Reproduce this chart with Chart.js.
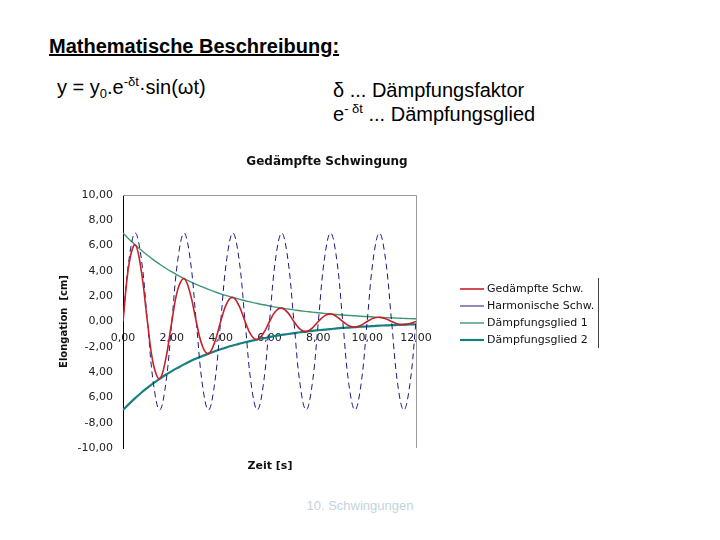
<!DOCTYPE html>
<html>
<head>
<meta charset="utf-8">
<script src="https://cdn.jsdelivr.net/npm/chart.js@4.4.1/dist/chart.umd.min.js"></script>
<style>
  body { margin: 0; width: 720px; height: 540px; background: #fff; position: relative; overflow: hidden; font-family: "Liberation Sans", Arial, sans-serif; }
  .txt { position: absolute; color: #000; white-space: nowrap; line-height: 23px; }
  #ueberschrift { left: 49px; top: 35px; font-size: 20px; font-weight: bold; text-decoration: underline; }
  #formel { left: 57px; top: 76px; font-size: 20px; }
  #delta { left: 333px; top: 79px; font-size: 20px; }
  #glied { left: 333px; top: 103px; font-size: 20px; }
  sub { font-size: 13px; vertical-align: -4px; line-height: 0; }
  sup { font-size: 13px; vertical-align: 8px; line-height: 0; }
  #fuss { left: 0; width: 720px; top: 494px; text-align: center; font-size: 13px; color: #c5d3dc; }
  #wrap { position: absolute; left: 50px; top: 140px; width: 560px; height: 330px; }
</style>
</head>
<body>
<div class="txt" id="ueberschrift">Mathematische Beschreibung:</div>
<div class="txt" id="formel">y = y<sub>0</sub>.e<sup>-δt</sup>·sin(ωt)</div>
<div class="txt" id="delta">δ ... Dämpfungsfaktor</div>
<div class="txt" id="glied">e<sup>- δt</sup> ... Dämpfungsglied</div>
<div class="txt" id="fuss">10. Schwingungen</div>
<div id="wrap"><canvas id="myChart"></canvas></div>
<script>
const grafico = document.getElementById('myChart')

const zeit = [0, 0.25, 0.5, 0.75, 1, 1.25, 1.5, 1.75, 2, 2.25, 2.5, 2.75, 3, 3.25, 3.5, 3.75,
  4, 4.25, 4.5, 4.75, 5, 5.25, 5.5, 5.75, 6, 6.25, 6.5, 6.75, 7, 7.25, 7.5, 7.75,
  8, 8.25, 8.5, 8.75, 9, 9.25, 9.5, 9.75, 10, 10.25, 10.5, 10.75, 11, 11.25, 11.5, 11.75, 12];

const gedaempft = [0, 4.60, 6.06, 3.98, 0, -3.44, -4.53, -2.98, 0, 2.58, 3.39, 2.23, 0, -1.93, -2.54, -1.67,
  0, 1.44, 1.90, 1.25, 0, -1.08, -1.42, -0.93, 0, 0.81, 1.06, 0.70, 0, -0.60, -0.80, -0.52,
  0, 0.45, 0.60, 0.39, 0, -0.34, -0.45, -0.29, 0, 0.25, 0.33, 0.22, 0, -0.19, -0.25, -0.16, 0];

const harmonisch = [0, 4.95, 7, 4.95, 0, -4.95, -7, -4.95, 0, 4.95, 7, 4.95, 0, -4.95, -7, -4.95,
  0, 4.95, 7, 4.95, 0, -4.95, -7, -4.95, 0, 4.95, 7, 4.95, 0, -4.95, -7, -4.95,
  0, 4.95, 7, 4.95, 0, -4.95, -7, -4.95, 0, 4.95, 7, 4.95, 0, -4.95, -7, -4.95, 0];

const glied1 = [7.00, 6.51, 6.06, 5.63, 5.24, 4.87, 4.53, 4.21, 3.92, 3.65, 3.39, 3.15, 2.93, 2.73, 2.54, 2.36,
  2.19, 2.04, 1.90, 1.77, 1.64, 1.53, 1.42, 1.32, 1.23, 1.14, 1.06, 0.99, 0.92, 0.85, 0.80, 0.74,
  0.69, 0.64, 0.60, 0.55, 0.51, 0.48, 0.45, 0.41, 0.39, 0.36, 0.33, 0.31, 0.29, 0.27, 0.25, 0.23, 0.22];

const glied2 = [-7.00, -6.51, -6.06, -5.63, -5.24, -4.87, -4.53, -4.21, -3.92, -3.65, -3.39, -3.15, -2.93, -2.73, -2.54, -2.36,
  -2.19, -2.04, -1.90, -1.77, -1.64, -1.53, -1.42, -1.32, -1.23, -1.14, -1.06, -0.99, -0.92, -0.85, -0.80, -0.74,
  -0.69, -0.64, -0.60, -0.55, -0.51, -0.48, -0.45, -0.41, -0.39, -0.36, -0.33, -0.31, -0.29, -0.27, -0.25, -0.23, -0.22];

const serienNamen = ['Gedämpfte Schw.', 'Harmonische Schw.', 'Dämpfungsglied 1', 'Dämpfungsglied 2'];

// y tick labels as printed in the picture (minus signs missing at -4 and -6)
const yWerte = [10, 8, 6, 4, 2, 0, -2, -4, -6, -8, -10];
const yBeschriftung = ['10,00', '8,00', '6,00', '4,00', '2,00', '0,00', '-2,00', '4,00', '6,00', '-8,00', '-10,00'];
const xBeschriftung = ['0,00', '2,00', '4,00', '6,00', '8,00', '10,00', '12,00'];

const punkte = werte => zeit.map((t, i) => ({ x: t, y: werte[i] }));

const serien = [
  { werte: gedaempft, color: '#c8202a', width: 1.6, dash: [] },
  { werte: harmonisch, color: '#1a1a80', width: 1, dash: [6, 4] },
  { werte: glied1, color: '#3f9677', width: 1.4, dash: [] },
  { werte: glied2, color: '#16807f', width: 2.2, dash: [] }
];

const schrift = '"DejaVu Sans", Verdana, sans-serif';

const extras = {
  id: 'extras',
  afterDraw(chart) {
    const ctx = chart.ctx;
    const a = chart.chartArea;
    ctx.save();
    // frame top and right
    ctx.strokeStyle = '#9a9a9a';
    ctx.lineWidth = 1;
    ctx.beginPath();
    ctx.moveTo(a.left, a.top + 0.5);
    ctx.lineTo(a.right + 0.5, a.top + 0.5);
    ctx.lineTo(a.right + 0.5, a.bottom);
    ctx.stroke();
    // title
    ctx.fillStyle = '#111';
    ctx.textAlign = 'center';
    ctx.textBaseline = 'middle';
    ctx.font = 'bold 12px ' + schrift;
    ctx.fillText('Gedämpfte Schwingung', 277, 22);
    ctx.font = 'bold 11px ' + schrift;
    ctx.fillText('Zeit [s]', 220, 326);
    // legend
    ctx.textAlign = 'left';
    ctx.font = '11px ' + schrift;
    serien.forEach((s, i) => {
      const y = 149 + i * 17;
      ctx.strokeStyle = s.color;
      ctx.lineWidth = s.width;
      ctx.beginPath();
      ctx.moveTo(410, y);
      ctx.lineTo(434, y);
      ctx.stroke();
      ctx.fillStyle = '#111';
      ctx.fillText(serienNamen[i], 437, y);
    });
    ctx.strokeStyle = '#444';
    ctx.lineWidth = 1;
    ctx.beginPath();
    ctx.moveTo(548.5, 138);
    ctx.lineTo(548.5, 208);
    ctx.stroke();
    ctx.restore();
  }
};

new Chart(grafico, {
  type: 'line',
  data: {
    datasets: serien.map((s, i) => ({
      label: serienNamen[i],
      data: punkte(s.werte),
      borderColor: s.color,
      borderWidth: s.width,
      borderDash: s.dash,
      pointRadius: 0,
      tension: 0.4,
      fill: false
    }))
  },
  options: {
    responsive: true,
    maintainAspectRatio: false,
    animation: false,
    layout: { padding: { left: 0, right: 194, top: 55, bottom: 22 } },
    plugins: { legend: { display: false }, title: { display: false }, tooltip: { enabled: false } },
    scales: {
      x: {
        type: 'linear',
        position: { y: 0 },
        min: 0, max: 12,
        grid: { display: false, drawTicks: false },
        border: { display: false },
        afterBuildTicks: ax => { ax.ticks = xBeschriftung.map((_, i) => ({ value: i * 2 })); },
        ticks: {
          padding: 10,
          maxRotation: 0,
          autoSkip: false,
          color: '#222',
          font: { family: schrift, size: 11 },
          callback: (v, i) => xBeschriftung[i]
        }
      },
      y: {
        min: -10, max: 10,
        afterFit: ax => { ax.width = 73; },
        afterBuildTicks: ax => { ax.ticks = yWerte.map(v => ({ value: v })); },
        grid: { display: false, drawTicks: false },
        border: { display: true, color: '#000', width: 1 },
        ticks: {
          padding: 10,
          autoSkip: false,
          color: '#222',
          font: { family: schrift, size: 11 },
          callback: (v, i) => yBeschriftung[i]
        },
        title: {
          display: true,
          text: 'Elongation  [cm]',
          color: '#111',
          padding: { top: 8, bottom: 0 },
          font: { family: schrift, size: 10, weight: 'bold' }
        }
      }
    }
  },
  plugins: [extras]
})
</script>
</body>
</html>
